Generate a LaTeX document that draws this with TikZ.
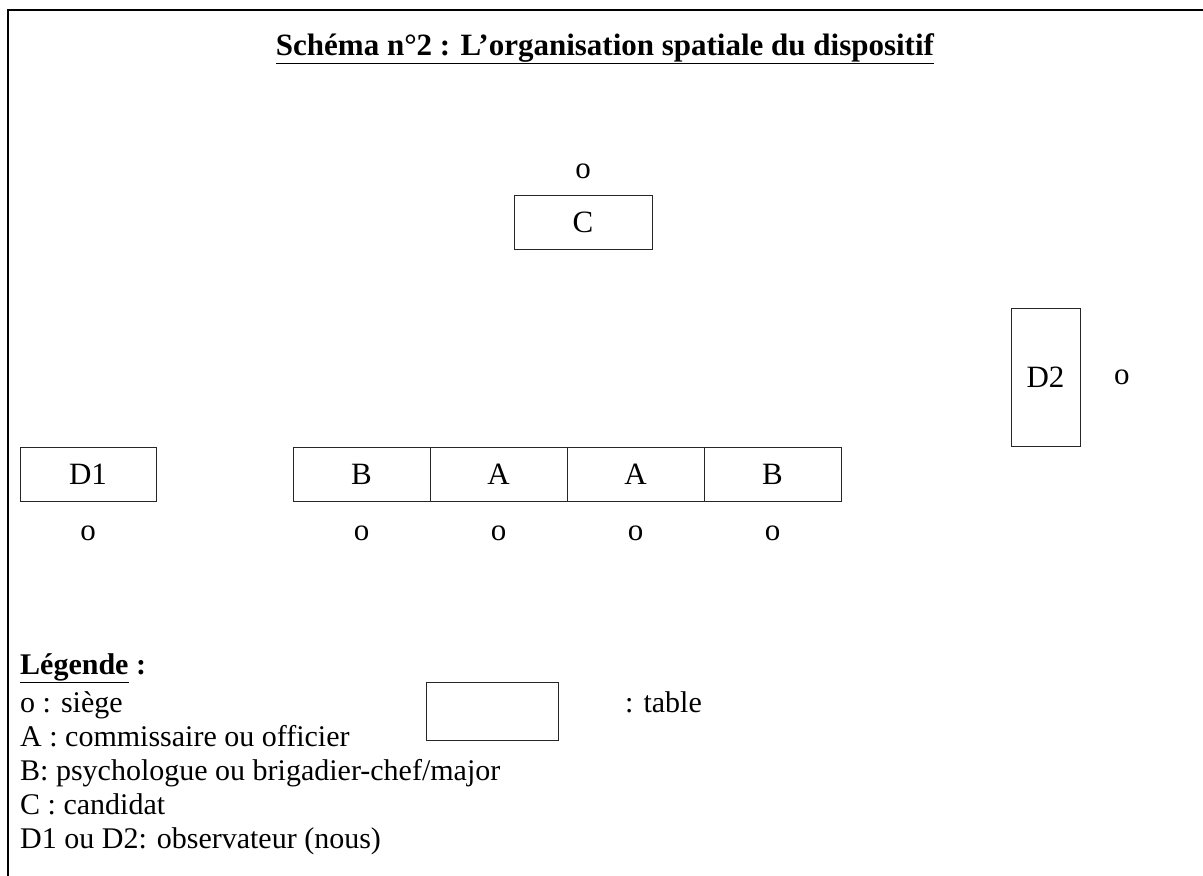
\documentclass[tikz,border=0pt]{standalone}
\usepackage{fontspec}
\setmainfont{Liberation Serif}
\usetikzlibrary{positioning}
\newcommand{\seat}{o}

\begin{document}
\begin{tikzpicture}[x=1pt,y=-1pt,
    every node/.style={font=\fontsize{31}{36}\selectfont},
    table/.style={draw=black!85, line width=1pt, inner sep=0pt, outer sep=0pt,
      minimum width=137pt, minimum height=54pt},
    seat/.style={inner sep=0pt},
    legline/.style={anchor=base west, inner sep=0pt, font=\fontsize{30}{34}\selectfont}]
  \useasboundingbox (0,0) rectangle (1203,876);
  \draw[line width=1.3pt] (8,876) -- (8,10) -- (1203,10);
  % titre
  \node[anchor=base, inner sep=0pt, font=\bfseries\fontsize{31}{36}\selectfont] (titre) at (605,55)
    {\underline{Schéma n°2 : L'organisation spatiale du dispositif}};
  % tables
  \node[table, minimum width=138pt] (C) at (583,222) {C};
  \node[seat, above=16pt of C] (sC) {\seat};
  \node[table, minimum width=69pt, minimum height=138pt] (D2) at (1045.5,377) {D2};
  \node[seat, right=34pt of D2] (sD2) {\seat};
  \node[table, minimum width=136pt] (D1) at (88,474) {D1};
  \node[seat, below=25pt of D1] (sD1) {\seat};
  \node[table] (B1) at (361.5,474) {B};
  \node[table, right=0pt of B1] (A1) {A};
  \node[table, right=0pt of A1] (A2) {A};
  \node[table, right=0pt of A2] (B2) {B};
  \foreach \t in {B1,A1,A2,B2}
    \node[seat, below=25pt of \t] (s\t) {\seat};
  % legende
  \node[legline, font=\bfseries\fontsize{30}{34}\selectfont] (leg) at (20,674) {\underline{Légende} :};
  \node[legline] (l1) at (20,712) {o : siège};
  \node[legline] (l2) at (20,746) {A : commissaire ou officier};
  \node[legline] (l3) at (20,780) {B: psychologue ou brigadier-chef/major};
  \node[legline] (l4) at (20,814) {C : candidat};
  \node[legline] (l5) at (20,848) {D1 ou D2: observateur (nous)};
  \node[table, minimum width=132pt, minimum height=58pt] (cle) at (492,711) {};
  \node[legline] (l6) at (625,712) {: table};
\end{tikzpicture}
\end{document}
